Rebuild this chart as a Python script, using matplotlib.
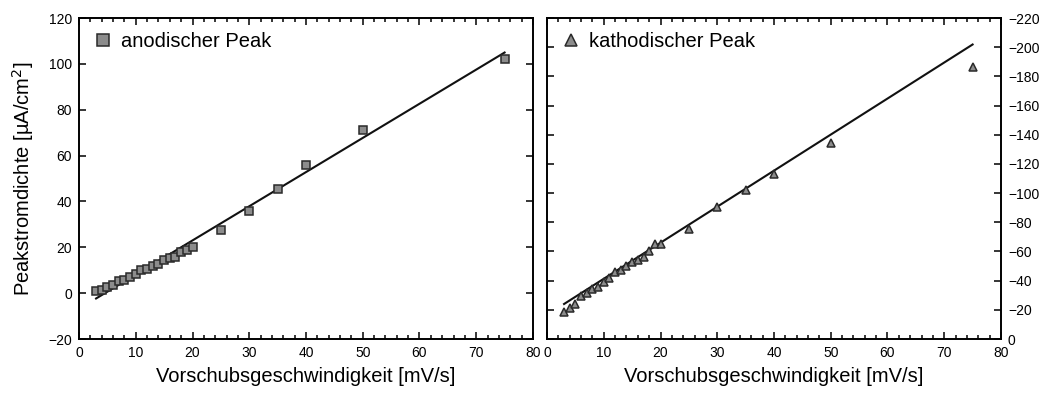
import numpy as np
import matplotlib
matplotlib.use('Agg')
import matplotlib.pyplot as plt
from matplotlib.ticker import MultipleLocator

plt.rcParams['font.family'] = ['Liberation Sans', 'DejaVu Sans']

# Vorschubsgeschwindigkeit [mV/s]
scan_rate = [3, 4, 5, 6, 7, 8, 9, 10, 11, 12, 13, 14, 15, 16, 17, 18, 19, 20,
             25, 30, 35, 40, 50, 75]

# anodischer Peak [uA/cm2]
anod = [0.9, 1.2, 2.6, 3.6, 5.1, 5.9, 7.0, 8.4, 10.0, 10.6, 11.7, 12.9, 14.3,
        15.4, 15.9, 18.1, 19.0, 20.1, 27.7, 35.7, 45.5, 55.7, 71.2, 102.0]

# kathodischer Peak [uA/cm2]
kath = [-18.8, -21.5, -24.3, -29.3, -31.3, -34.0, -35.8, -39.2, -41.7, -46.0,
        -47.6, -50.1, -52.8, -54.4, -56.0, -60.5, -64.9, -64.9, -75.5, -90.5,
        -102.0, -113.3, -134.0, -186.2]

# Ausgleichsgeraden (Steigung, Achsenabschnitt)
fit_anod = (1.490, -6.8)
fit_kath = (-2.47, -16.6)

x_fit = np.array([scan_rate[0], scan_rate[-1]])

fig = plt.figure(figsize=(10.51, 3.96), dpi=100)
ax1 = fig.add_axes([0.0752, 0.1439, 0.4319, 0.8106])
ax2 = fig.add_axes([0.5205, 0.1439, 0.4319, 0.8106])

ax1.plot(scan_rate, anod, 's', ms=5.3, mfc='#8c8c8c', mec='#2a2a2a', mew=1.1,
         label='anodischer Peak', zorder=3)
ax1.plot(x_fit, fit_anod[0] * x_fit + fit_anod[1], color='#111111', lw=1.5)

ax2.plot(scan_rate, kath, '^', ms=5.8, mfc='#8c8c8c', mec='#2a2a2a', mew=1.1,
         label='kathodischer Peak', zorder=3)
ax2.plot(x_fit, fit_kath[0] * x_fit + fit_kath[1], color='#111111', lw=1.5)

ax1.set_xlim(0, 80)
ax1.set_ylim(-20, 120)
ax1.yaxis.set_major_locator(MultipleLocator(20))

ax2.set_xlim(0, 80)
ax2.set_ylim(0, -220)
ax2.yaxis.set_major_locator(MultipleLocator(20))
ax2.yaxis.tick_right()

for ax in (ax1, ax2):
    ax.xaxis.set_major_locator(MultipleLocator(10))
    ax.xaxis.set_minor_locator(MultipleLocator(2))
    ax.tick_params(which='both', direction='in', top=True, right=True,
                   left=True, labelsize=10, width=1.1, pad=5)
    ax.tick_params(which='major', length=5)
    ax.tick_params(which='minor', length=3, left=False, right=False)
    for s in ax.spines.values():
        s.set_linewidth(1.4)
    ax.set_xlabel('Vorschubsgeschwindigkeit [mV/s]', fontsize=14.5, labelpad=5)
    ax.legend(loc='upper left', frameon=False, fontsize=14.5, handletextpad=0.4,
              borderaxespad=0.3, handlelength=1.0, markerscale=1.5)

ax2.tick_params(labelleft=False, labelright=True)
ax1.set_ylabel('Peakstromdichte [µA/cm$^2$]', fontsize=14.5, labelpad=9)

fig.savefig('out.png', dpi=100)
